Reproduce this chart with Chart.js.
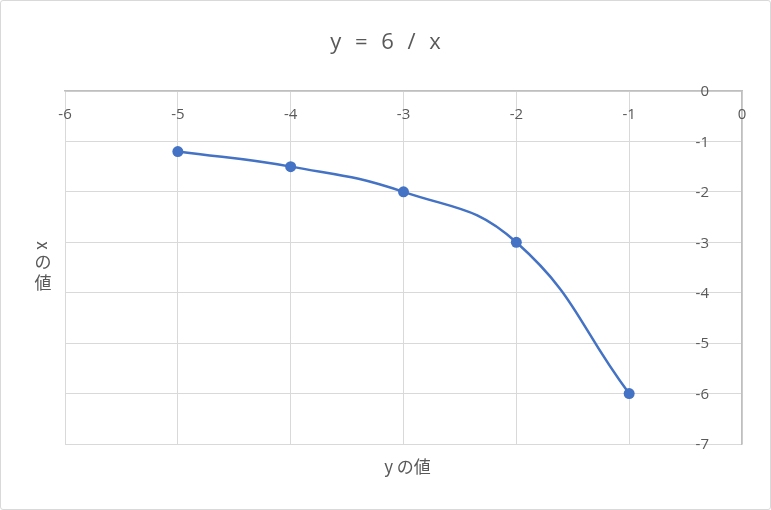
<!DOCTYPE html>
<html>
<head>
<meta charset="utf-8">
<script src="https://cdn.jsdelivr.net/npm/chart.js@4.4.1/dist/chart.umd.min.js"></script>
<style>
    html, body { margin: 0; padding: 0; background: #fff; }
    #wrap {
        width: 771px; height: 510px; box-sizing: border-box;
        border: 1px solid #d9d9d9; border-radius: 3px; background: #fff;
    }
    #chart { display: block; }
</style>
</head>
<body>
<div id="wrap"><canvas id="chart" width="769" height="508"></canvas></div>
<script>
// Data
const xValues = [-5, -4, -3, -2, -1];
const yValues = [-1.2, -1.5, -2, -3, -6];
const xTicks = [-6, -5, -4, -3, -2, -1, 0];
const yTicks = [0, -1, -2, -3, -4, -5, -6, -7];
const chartTitle = 'y = 6 / x';

const textColor = '#595959';
const gridColor = '#d9d9d9';
const axisColor = '#bfbfbf';
const numFont = '15px "Open Sans", "Noto Sans", sans-serif';
const jpFont = '17px "Noto Sans CJK JP", sans-serif';

// Title, tick labels and axis titles drawn on top of the library's scales
const labelsPlugin = {
    id: 'excelLabels',
    afterDraw(chart) {
        const ctx = chart.ctx;
        const xs = chart.scales.x;
        const ys = chart.scales.y;
        const area = chart.chartArea;
        ctx.save();
        ctx.fillStyle = textColor;
        ctx.textBaseline = 'middle';

        // chart title (wide spacing like the original)
        ctx.font = '22px "Open Sans", "Noto Sans", sans-serif';
        ctx.letterSpacing = '4px';
        ctx.textAlign = 'left';
        const tw = ctx.measureText(chartTitle).width - 4;
        ctx.fillText(chartTitle, chart.width / 2 - tw / 2, 42);
        ctx.letterSpacing = '0px';

        // x tick labels, just under the top axis
        ctx.font = numFont;
        ctx.textAlign = 'center';
        xTicks.forEach(v => {
            ctx.fillText(String(v), xs.getPixelForValue(v), area.top + 24);
        });

        // y tick labels, left of the right axis
        ctx.textAlign = 'right';
        yTicks.forEach(v => {
            ctx.fillText(String(v), area.right - 33, ys.getPixelForValue(v) + 1);
        });

        // bottom axis title
        ctx.font = jpFont;
        ctx.textAlign = 'center';
        ctx.fillText('y の値', (area.left + area.right) / 2 + 4, area.bottom + 23);

        // left axis title, vertical writing (latin letter turned)
        const midY = (area.top + area.bottom) / 2;
        const cx = 42;
        ctx.save();
        ctx.translate(cx, midY - 22);
        ctx.rotate(Math.PI / 2);
        ctx.fillText('x', 0, 0);
        ctx.restore();
        ctx.fillText('の', cx, midY - 6);
        ctx.fillText('値', cx, midY + 15);
        ctx.restore();
    }
};

new Chart(document.getElementById('chart'), {
    type: 'scatter',
    data: {
        datasets: [{
            label: chartTitle,
            data: xValues.map((x, i) => ({ x: x, y: yValues[i] })),
            showLine: true,
            tension: 0.45,
            borderColor: '#4472c4',
            backgroundColor: '#4472c4',
            borderWidth: 2.5,
            pointRadius: 5.5,
            pointHoverRadius: 5.5,
            pointBorderWidth: 0
        }]
    },
    options: {
        responsive: false,
        animation: false,
        devicePixelRatio: 1,
        layout: { padding: { left: 64, right: 28, top: 90, bottom: 65 } },
        plugins: {
            legend: { display: false },
            tooltip: { enabled: false },
            title: { display: false }
        },
        scales: {
            x: {
                type: 'linear',
                position: 'top',
                min: -6,
                max: 0,
                ticks: { display: false, stepSize: 1 },
                grid: { color: gridColor, lineWidth: 1, drawTicks: false },
                border: { display: true, color: axisColor, width: 1.5 },
                afterFit(scale) { scale.height = 0; }
            },
            y: {
                type: 'linear',
                position: 'right',
                min: -7,
                max: 0,
                ticks: { display: false, stepSize: 1 },
                grid: { color: gridColor, lineWidth: 1, drawTicks: false },
                border: { display: true, color: axisColor, width: 1.5 },
                afterFit(scale) { scale.width = 0; }
            }
        }
    },
    plugins: [labelsPlugin]
});
</script>
</body>
</html>
